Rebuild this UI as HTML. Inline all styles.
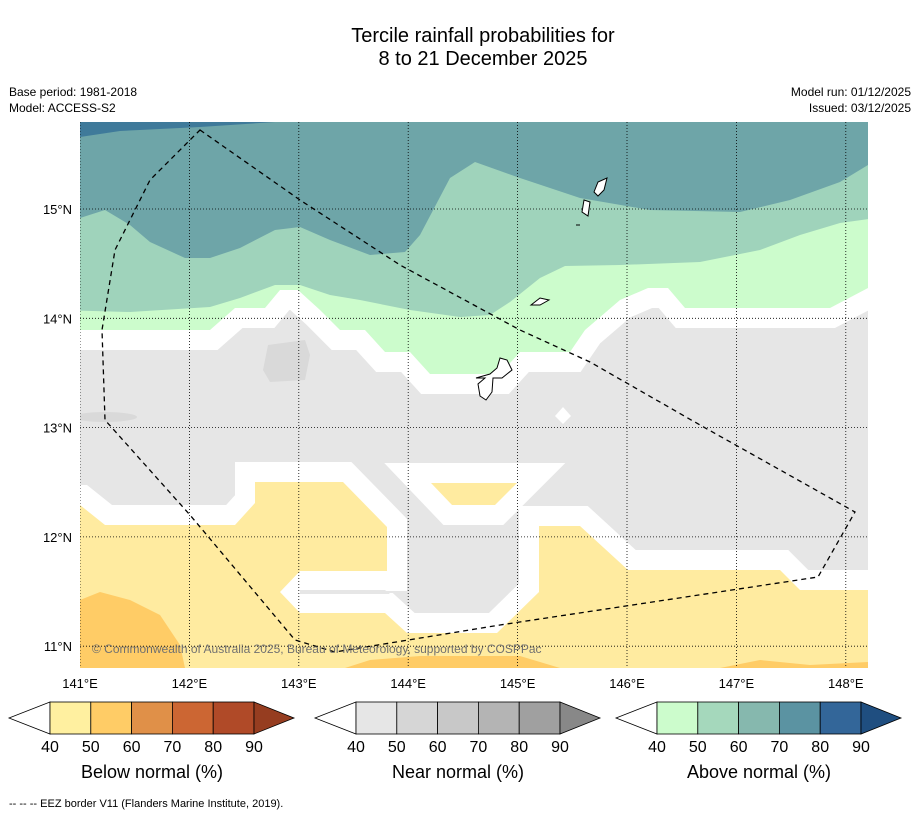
<!DOCTYPE html>
<html><head><meta charset="utf-8">
<style>
body{margin:0;background:#fff;font-family:"Liberation Sans",sans-serif;}
svg{display:block}
</style></head>
<body>
<svg width="919" height="816" viewBox="0 0 919 816" xmlns="http://www.w3.org/2000/svg">
<defs><clipPath id="mapclip"><rect x="80" y="122" width="788" height="546"/></clipPath></defs>
<text x="483" y="42" font-size="20" text-anchor="middle">Tercile rainfall probabilities for</text>
<text x="483" y="65" font-size="20" text-anchor="middle">8 to 21 December 2025</text>
<text x="9" y="96" font-size="12">Base period: 1981-2018</text>
<text x="9" y="112" font-size="12">Model: ACCESS-S2</text>
<text x="911" y="96" font-size="12" text-anchor="end">Model run: 01/12/2025</text>
<text x="911" y="112" font-size="12" text-anchor="end">Issued: 03/12/2025</text>

<g clip-path="url(#mapclip)">
<rect x="80" y="122" width="788" height="546" fill="#e6e6e6"/>
<path fill="#ccfccc" stroke="#fff" stroke-width="40" paint-order="stroke" d="M60,100 L60,330 L210,330 L235,308 L265,308 L280,290 L298,290 L320,310 L340,330 L365,330 L385,352 L410,352 L430,374 L500,374 L520,352 L570,352 L585,330 L620,300 L648,288 L668,288 L685,308 L830,308 L868,288 L890,288 L890,100 Z"/>
<path fill="#9fd3bb" d="M60,100 L60,310 L130,312 L210,307 L240,298 L275,285 L300,285 L330,295 L360,300 L410,310 L460,317 L490,315 L510,302 L540,278 L565,266 L620,265 L700,262 L760,250 L800,235 L840,223 L890,216 L890,100 Z"/>
<path fill="#6ea5a8" d="M60,100 L60,218 L80,218 L105,210 L130,225 L150,242 L185,258 L210,258 L240,248 L275,230 L300,227 L330,240 L370,255 L405,252 L420,235 L450,178 L475,162 L520,178 L580,198 L650,210 L740,212 L790,200 L840,182 L868,165 L890,160 L890,100 Z"/>
<path fill="#3f7a9a" d="M80,122 L275,122 L200,127 L120,131 L80,137 Z"/>
<path fill="#ffeba0" stroke="#fff" stroke-width="40" paint-order="stroke" d="M60,505 L80,505 L105,525 L235,525 L255,503 L255,482 L343,482 L387,527 L387,571 L300,571 L280,592 L300,613 L385,613 L407,633 L497,633 L539,592 L539,526 L580,526 L628,570 L780,570 L800,590 L890,590 L890,700 L60,700 Z"/>
<path fill="#e6e6e6" d="M300,590 L385,590 L390,594 L300,594 Z"/>
<path fill="#ffeba0" stroke="#fff" stroke-width="40" paint-order="stroke" d="M431,483 L517,483 L495,505 L452,505 Z"/>
<path fill="#ffcc66" d="M80,600 L100,592 L130,600 L160,615 L180,645 L185,668 L80,668 Z"/>
<path fill="#ffcc66" d="M345,668 L370,660 L420,656 L520,656 L560,668 Z"/>
<path fill="#ffcc66" d="M720,668 L760,660 L810,665 L868,662 L868,668 Z"/>
<path fill="#d9d9d9" d="M268,345 L305,340 L310,355 L305,380 L270,382 L263,370 Z"/>
<ellipse cx="105" cy="417" rx="32" ry="5" fill="#d9d9d9"/>
<path fill="#fff" d="M563,407 L571,416 L563,424 L555,416 Z"/>
<g id="grid" stroke="#000" stroke-width="0.8" stroke-dasharray="1,2"></g>
<path fill="#fff" stroke="#000" stroke-width="1" d="M500,358 L507,360 L512,370 L502,378 L493,378 L492,392 L486,400 L480,396 L478,384 L485,378 L476,378 L490,374 L497,368 Z"/>
<path fill="#fff" stroke="#000" stroke-width="1" d="M531,305 L540,298 L549,300 L540,305 Z"/>
<path fill="#fff" stroke="#000" stroke-width="1" d="M594,192 L598,182 L607,178 L604,190 L598,196 Z M584,200 L590,202 L588,216 L582,212 Z M576,225 L580,225"/>
<path fill="none" stroke="#000" stroke-width="1.3" stroke-dasharray="5,4" d="M200,130 L300,200 L400,265 L520,330 L590,362 L700,425 L855,512 L818,577 L500,625 L335,652 L295,640 L190,515 L105,420 L102,330 L115,250 L150,180 Z"/>
<text x="92" y="653" font-size="12" fill="#707070">© Commonwealth of Australia 2025, Bureau of Meteorology, supported by COSPPac</text>
</g>
<g id="ticks" font-size="13"></g>
<g id="bars"></g>
<text x="9" y="807" font-size="11">--  --  -- EEZ border V11 (Flanders Marine Institute, 2019).</text>
</svg>
<script>
const lonTicks=[141,142,143,144,145,146,147,148];
const latTicks=[15,14,13,12,11];
const levels=[40,50,60,70,80,90];
const barTitles=["Below normal (%)","Near normal (%)","Above normal (%)"];
const barStarts=[50,356,657];
const belowColors=["#fff0a0","#ffcc66","#e09048","#cc6633","#b04a28","#963d20"];
const nearColors=["#e6e6e6","#d6d6d6","#c8c8c8","#b4b4b4","#a0a0a0","#888888"];
const aboveColors=["#ccfccc","#a5d8bc","#86b8ae","#5b93a2","#336699","#1f4e80"];
const NS="http://www.w3.org/2000/svg";
const xLon=l=>80+(l-141)*109.4;
const yLat=l=>209+(15-l)*109.3;
const grid=document.getElementById('grid'),ticks=document.getElementById('ticks');
lonTicks.forEach(l=>{
 const ln=document.createElementNS(NS,'line');
 ln.setAttribute('x1',xLon(l));ln.setAttribute('x2',xLon(l));ln.setAttribute('y1',122);ln.setAttribute('y2',668);
 
 
 grid.appendChild(ln);
 const t=document.createElementNS(NS,'text');
 t.setAttribute('x',xLon(l));t.setAttribute('y',688);t.setAttribute('text-anchor','middle');
 t.textContent=l+'°E';
 
 
 ticks.appendChild(t);
});
latTicks.forEach(l=>{
 const ln=document.createElementNS(NS,'line');
 ln.setAttribute('x1',80);ln.setAttribute('x2',868);ln.setAttribute('y1',yLat(l));ln.setAttribute('y2',yLat(l));
 
 
 grid.appendChild(ln);
 const t=document.createElementNS(NS,'text');
 t.setAttribute('x',72);t.setAttribute('y',yLat(l)+5);t.setAttribute('text-anchor','end');
 t.textContent=l+'°N';
 
 
 ticks.appendChild(t);
});
const bars=document.getElementById('bars');
[belowColors,nearColors,aboveColors].forEach((cols,bi)=>{
 const x0=barStarts[bi],w=40.8,y0=702,h=32,n=levels.length-1;
 const g=document.createElementNS(NS,'g');
 
 
 const lt=document.createElementNS(NS,'path');
 lt.setAttribute('d',`M${x0},${y0} L${x0-41},${y0+h/2} L${x0},${y0+h} Z`);
 lt.setAttribute('fill','#fff');lt.setAttribute('stroke','#000');lt.setAttribute('stroke-width','0.8');
 
 
 g.appendChild(lt);
 for(let i=0;i<n;i++){
  const r=document.createElementNS(NS,'rect');
  r.setAttribute('x',x0+i*w);r.setAttribute('y',y0);r.setAttribute('width',w);r.setAttribute('height',h);
  r.setAttribute('fill',cols[i]);r.setAttribute('stroke','#000');r.setAttribute('stroke-width','0.8');
  
  
  g.appendChild(r);
 }
 const xe=x0+n*w;
 const rt=document.createElementNS(NS,'path');
 rt.setAttribute('d',`M${xe},${y0} L${xe+40},${y0+h/2} L${xe},${y0+h} Z`);
 rt.setAttribute('fill',cols[n]);rt.setAttribute('stroke','#000');rt.setAttribute('stroke-width','0.8');
 
 
 g.appendChild(rt);
 levels.forEach((v,i)=>{
  const t=document.createElementNS(NS,'text');
  t.setAttribute('x',x0+i*w);t.setAttribute('y',752);t.setAttribute('text-anchor','middle');t.setAttribute('font-size','16');
  t.textContent=v;
  
  
  g.appendChild(t);
 });
 const tt=document.createElementNS(NS,'text');
 tt.setAttribute('x',x0+n*w/2);tt.setAttribute('y',778);tt.setAttribute('text-anchor','middle');tt.setAttribute('font-size','18');
 tt.textContent=barTitles[bi];
 
 
 g.appendChild(tt);
 bars.appendChild(g);
});
</script>
</body></html>
